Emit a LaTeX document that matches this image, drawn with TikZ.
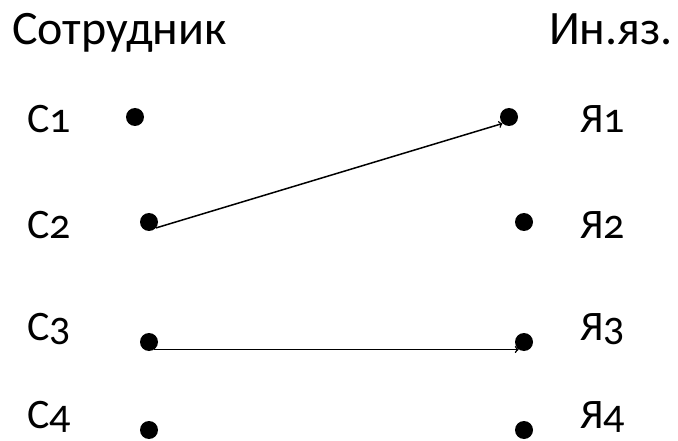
\documentclass[tikz,border=0pt]{standalone}
\usepackage{fontspec}
\setmainfont{Carlito}[Numbers=OldStyle]
\usepackage{tikz}
\usetikzlibrary{positioning}

\begin{document}
\begin{tikzpicture}[
  x=1pt, y=-1pt,
  head/.style={anchor=base west, inner sep=0pt, font=\fontsize{48}{48}\selectfont},
  lbl/.style={anchor=base west, inner sep=0pt, font=\fontsize{42}{42}\selectfont},
  dot/.style={circle, fill=black, inner sep=0pt, minimum size=18pt},
  arr/.style={->, line width=1.5pt}
]
\useasboundingbox (0,0) rectangle (678,441);

% headings
\node[head] (hsotr) at (12,45) {Сотрудник};
\node[head, anchor=base east] (hlang) at (673,45) {Ин.яз.};

% left column
\node[lbl] (lc1) at (27,133) {С1};
\node[lbl] (lc2) at (27,238) {С2};
\node[lbl] (lc3) at (27,340) {С3};
\node[lbl] (lc4) at (27,428) {С4};
\node[dot] (c1) at (135,117) {};
\node[dot] (c2) at (149,222) {};
\node[dot] (c3) at (149,342) {};
\node[dot] (c4) at (149,430) {};

% right column
\node[dot] (y1) at (509,117) {};
\node[dot] (y2) at (524,222) {};
\node[dot] (y3) at (524,342) {};
\node[dot] (y4) at (524,430) {};
\node[lbl] (ly1) at (580,133) {Я1};
\node[lbl] (ly2) at (580,238) {Я2};
\node[lbl] (ly3) at (580,340) {Я3};
\node[lbl] (ly4) at (580,428) {Я4};

\draw[arr] (c2.-40) -- (y1.-135);
\draw[arr] (c3.-55) -- (y3.-125);
\end{tikzpicture}
\end{document}
